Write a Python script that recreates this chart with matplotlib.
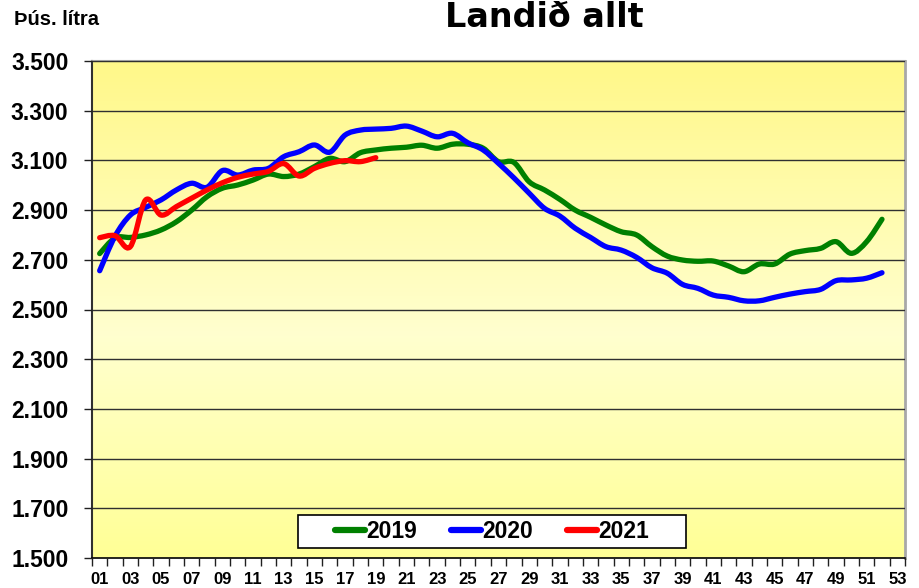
import matplotlib
matplotlib.use("Agg")
import matplotlib.pyplot as plt
import numpy as np
from matplotlib.path import Path
from matplotlib.patches import PathPatch, Rectangle
from matplotlib.lines import Line2D
from matplotlib.colors import LinearSegmentedColormap
from matplotlib.ticker import FuncFormatter

#------------------------
# Datos (miles de litros)
#------------------------
weeks_2019 = list(range(1, 53))
vals_2019 = [2725, 2788, 2790, 2800, 2820, 2853, 2900, 2954, 2988, 3001,
             3021, 3045, 3035, 3045, 3075, 3108, 3095, 3131, 3142, 3149,
             3153, 3161, 3149, 3165, 3165, 3149, 3095, 3092, 3014, 2981,
             2943, 2900, 2871, 2840, 2813, 2800, 2753, 2715, 2699, 2694,
             2695, 2675, 2652, 2683, 2683, 2723, 2737, 2746, 2773, 2726,
             2773, 2863]

weeks_2020 = list(range(1, 53))
vals_2020 = [2656, 2795, 2880, 2911, 2941, 2981, 3008, 2992, 3059, 3041,
             3061, 3068, 3115, 3135, 3162, 3133, 3202, 3222, 3226, 3229,
             3238, 3218, 3195, 3209, 3171, 3142, 3088, 3030, 2968, 2907,
             2876, 2827, 2790, 2753, 2739, 2710, 2668, 2646, 2601, 2585,
             2558, 2549, 2535, 2535, 2549, 2562, 2572, 2581, 2616, 2619,
             2626, 2648]

weeks_2021 = list(range(1, 20))
vals_2021 = [2789, 2797, 2753, 2941, 2880, 2914, 2948, 2981, 3010, 3032,
             3045, 3056, 3087, 3037, 3068, 3088, 3099, 3095, 3111]

series = [("2019", weeks_2019, vals_2019, "#008000"),
          ("2020", weeks_2020, vals_2020, "#0000FF"),
          ("2021", weeks_2021, vals_2021, "#FF0000")]

week_labels = [f"{w:02d}" for w in range(1, 54, 2)]

FONT = "Liberation Sans"


def smooth_path(x, y):
    # curva suavizada tipo Excel (Catmull-Rom -> Bezier)
    pts = np.column_stack([x, y]).astype(float)
    ext = np.vstack([pts[0], pts, pts[-1]])
    verts = [pts[0]]
    codes = [Path.MOVETO]
    for i in range(len(pts) - 1):
        p0, p1, p2, p3 = ext[i], ext[i + 1], ext[i + 2], ext[i + 3]
        c1 = p1 + (p2 - p0) / 6.0
        c2 = p2 - (p3 - p1) / 6.0
        verts += [c1, c2, p2]
        codes += [Path.CURVE4] * 3
    return Path(verts, codes)


fig = plt.figure(figsize=(9.2, 5.88), dpi=100)
ax = fig.add_axes([92 / 920, 30 / 588, 813 / 920, 497 / 588])

# fondo degradado amarillo
cmap = LinearSegmentedColormap.from_list(
    "fondo",
    [(0.0, "#FFFF96"), (0.45, "#FFFFCF"), (1.0, "#FFF889")])
grad = np.linspace(0, 1, 256).reshape(-1, 1)
ax.imshow(grad, cmap=cmap, aspect="auto", extent=(0, 1, 0, 1),
          transform=ax.transAxes, origin="lower", zorder=0)

ax.set_xlim(0.5, 53.5)
ax.set_ylim(1500, 3500)

for name, wk, vals, col in series:
    patch = PathPatch(smooth_path(wk, vals), fill=False, edgecolor=col,
                      linewidth=3.8, capstyle="round", joinstyle="round",
                      zorder=3)
    ax.add_patch(patch)

# ejes
ax.set_yticks(np.arange(1500, 3501, 200))
ax.yaxis.set_major_formatter(FuncFormatter(lambda v, p: f"{v/1000:.3f}"))
ax.grid(axis="y", color="#303030", linewidth=1.0, zorder=1)
ax.set_axisbelow(False)

ax.set_xticks(np.arange(0.5, 54, 1))
ax.set_xticklabels([])
ax.set_xticks(np.arange(1, 54, 2), minor=True)
ax.set_xticklabels(week_labels, minor=True)
ax.tick_params(axis="x", which="major", length=6, width=1, color="#202020",
               direction="out")
ax.tick_params(axis="x", which="minor", length=0, pad=10)
ax.tick_params(axis="y", length=6, width=1, color="#202020", pad=11)

for lab in ax.get_xticklabels(minor=True):
    lab.set_fontfamily(FONT)
    lab.set_fontweight("bold")
    lab.set_fontsize(12)
for lab in ax.get_yticklabels():
    lab.set_fontfamily(FONT)
    lab.set_fontweight("bold")
    lab.set_fontsize(16.5)

ax.spines["left"].set_color("#303030")
ax.spines["left"].set_linewidth(1.5)
ax.spines["bottom"].set_color("#000000")
ax.spines["bottom"].set_linewidth(1.2)
ax.spines["top"].set_color("#A0A0A0")
ax.spines["top"].set_linewidth(1.5)
ax.spines["right"].set_color("#A8A8A8")
ax.spines["right"].set_linewidth(2)

# textos
fig.text(544 / 920, (588 - 27) / 588, "Landið allt", ha="center",
         va="baseline", fontsize=24, fontweight="bold",
         fontfamily="DejaVu Sans")
fig.text(14 / 920, (588 - 25) / 588, "Þús. lítra", ha="left",
         va="baseline", fontsize=14.5, fontweight="bold", fontfamily=FONT)

# leyenda
fig.patches.append(Rectangle((298 / 920, (588 - 548) / 588), 388 / 920,
                             33 / 588, transform=fig.transFigure,
                             facecolor="white", edgecolor="black",
                             linewidth=1.2, zorder=5))
handles = [Line2D([], [], color=c, linewidth=4.5, solid_capstyle="round")
           for _, _, _, c in series]
leg = fig.legend(handles, [s[0] for s in series], loc="center",
                 bbox_to_anchor=(492 / 920, (588 - 531.5) / 588), ncol=3,
                 frameon=False, handlelength=1.3, handletextpad=0.05,
                 columnspacing=1.5,
                 prop={"family": FONT, "weight": "bold", "size": 16.5})
leg.set_zorder(6)

fig.savefig("out.png", dpi=100)
